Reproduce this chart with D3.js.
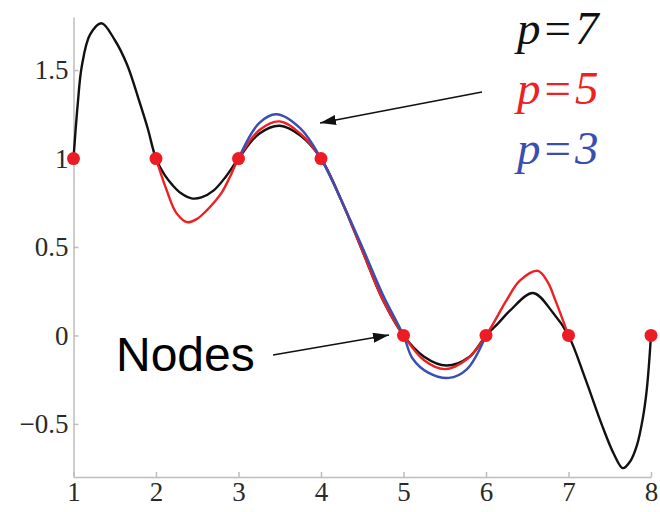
<!DOCTYPE html>
<html>
<head>
<meta charset="utf-8">
<script src="https://cdn.jsdelivr.net/npm/d3@7"></script>
<style>
body { margin: 0; background: #fff; }
svg { display: block; }
</style>
</head>
<body>
<div id="graph"></div>
<script>
// interpolation nodes
var nodeX = [1, 2, 3, 4, 5, 6, 7, 8]
var nodeY = [1, 1, 1, 1, 0, 0, 0, 0]

// p=7
var p7x = [1, 1.05, 1.1, 1.2, 1.34, 1.5, 1.65, 1.8, 1.9, 2, 2.1, 2.2, 2.3, 2.43, 2.55, 2.7, 2.85, 3, 3.25, 3.5, 3.75, 4, 4.25, 4.5, 4.75, 5, 5.25, 5.52, 5.8, 6, 6.15, 6.29, 6.57, 6.81, 7, 7.2, 7.4, 7.55, 7.66, 7.75, 7.83, 7.9, 7.95, 8]
var p7y = [1, 1.3, 1.52, 1.7, 1.765, 1.67, 1.53, 1.32, 1.17, 1, 0.91, 0.85, 0.805, 0.775, 0.78, 0.82, 0.9, 1, 1.14, 1.185, 1.13, 1, 0.76, 0.48, 0.2, 0, -0.12, -0.17, -0.12, 0, 0.07, 0.14, 0.24, 0.13, 0, -0.24, -0.5, -0.67, -0.75, -0.71, -0.62, -0.47, -0.3, 0]

// p=5
var p5x = [2, 2.13, 2.25, 2.38, 2.5, 2.6, 2.7, 2.8, 2.9, 3, 3.25, 3.5, 3.75, 4, 4.25, 4.5, 4.75, 5, 5.25, 5.5, 5.78, 6, 6.25, 6.41, 6.63, 6.75, 6.84, 7]
var p5y = [1, 0.82, 0.69, 0.64, 0.66, 0.7, 0.75, 0.81, 0.9, 1, 1.16, 1.21, 1.14, 1, 0.76, 0.48, 0.2, 0, -0.14, -0.19, -0.13, 0, 0.2, 0.31, 0.365, 0.3, 0.2, 0]

// p=3
var p3x = [3, 3.25, 3.46, 3.75, 4, 4.25, 4.5, 4.75, 5, 5.11, 5.3, 5.55, 5.77, 6]
var p3y = [1, 1.2, 1.25, 1.17, 1, 0.76, 0.5, 0.23, 0, -0.13, -0.21, -0.24, -0.19, 0]

var xTicks = [1, 2, 3, 4, 5, 6, 7, 8]
var yTicks = [-0.5, 0, 0.5, 1, 1.5]
var legendLabels = ['p=7', 'p=5', 'p=3']
var colors = ['#111', 'rgb(237,32,36)', 'rgb(58,78,178)']
var dotColor = 'rgb(237,28,36)'

var width = 660, height = 512

var svg = d3.select('#graph').append('svg')
  .attr('width', width)
  .attr('height', height)

var x = d3.scaleLinear().domain([1, 8]).range([73.5, 651])
var y = d3.scaleLinear().domain([-0.8, 1.8]).range([477, 17])

var defs = svg.append('defs')
defs.append('marker')
  .attr('id', 'head')
  .attr('viewBox', '0 0 16 10')
  .attr('refX', 16).attr('refY', 5)
  .attr('markerWidth', 16).attr('markerHeight', 10)
  .attr('markerUnits', 'userSpaceOnUse')
  .attr('orient', 'auto')
  .append('path')
  .attr('d', 'M0,0L16,5L0,10Z')
  .attr('fill', '#111')

// axes: only left and bottom, light grey, ticks pointing in
var xAxis = d3.axisBottom(x)
  .tickValues(xTicks)
  .tickSizeInner(-5).tickSizeOuter(0)
  .tickPadding(5)
  .tickFormat(d => d)

var yAxis = d3.axisLeft(y)
  .tickValues(yTicks)
  .tickSizeInner(-5).tickSizeOuter(0)
  .tickPadding(5)
  .tickFormat(d => String(d).replace('-', '\u2212'))

svg.append('g')
  .attr('transform', 'translate(0,' + y(-0.8) + ')')
  .call(xAxis)

svg.append('g')
  .attr('transform', 'translate(' + x(1) + ',0)')
  .call(yAxis)

svg.selectAll('.domain, .tick line')
  .attr('stroke', '#bdbdbd')
  .attr('stroke-width', 1.5)

svg.selectAll('.tick text')
  .attr('fill', '#2a2a2a')
  .attr('font-family', '"Liberation Serif", "DejaVu Serif", serif')
  .attr('font-size', 27)

// curves
var series = [
  {xs: p7x, ys: p7y},
  {xs: p5x, ys: p5y},
  {xs: p3x, ys: p3y}
]

var line = d3.line()
  .x(d => x(d[0]))
  .y(d => y(d[1]))
  .curve(d3.curveCatmullRom.alpha(0.5))

svg.selectAll('path.curve')
  .data(series)
  .join('path')
  .attr('class', 'curve')
  .attr('d', d => line(d3.zip(d.xs, d.ys)))
  .attr('fill', 'none')
  .attr('stroke', (d, i) => colors[i])
  .attr('stroke-width', 2.4)

// nodes
svg.selectAll('circle.node')
  .data(d3.zip(nodeX, nodeY))
  .join('circle')
  .attr('class', 'node')
  .attr('cx', d => x(d[0]))
  .attr('cy', d => y(d[1]))
  .attr('r', 6.5)
  .attr('fill', dotColor)

// legend
var legend = svg.selectAll('text.legend')
  .data(legendLabels)
  .join('text')
  .attr('class', 'legend')
  .attr('x', 517)
  .attr('y', (d, i) => 44 + i * 60)
  .attr('fill', (d, i) => colors[i])
  .attr('font-family', '"Liberation Serif", "DejaVu Serif", serif')
  .attr('font-size', 47)

legend.append('tspan').attr('font-style', 'italic').text(d => d.split('=')[0])
legend.append('tspan').attr('dx', 4).text('=')
legend.append('tspan').attr('dx', 4).attr('font-style', 'italic').text(d => d.split('=')[1])

// annotations
svg.append('line')
  .attr('x1', 482).attr('y1', 92)
  .attr('x2', 320).attr('y2', 123)
  .attr('stroke', '#111')
  .attr('stroke-width', 1.6)
  .attr('marker-end', 'url(#head)')

svg.append('text')
  .attr('x', 116).attr('y', 371)
  .attr('fill', '#000')
  .attr('font-family', '"Liberation Sans", Arial, sans-serif')
  .attr('font-size', 48)
  .text('Nodes')

svg.append('line')
  .attr('x1', 273).attr('y1', 355)
  .attr('x2', 389).attr('y2', 335)
  .attr('stroke', '#111')
  .attr('stroke-width', 1.6)
  .attr('marker-end', 'url(#head)')
</script>
</body>
</html>
